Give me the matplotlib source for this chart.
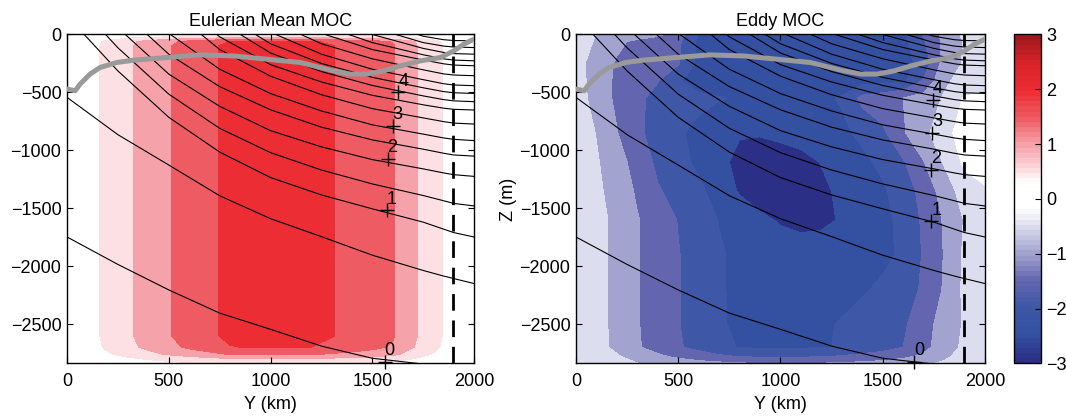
import numpy as np
import matplotlib
matplotlib.use("Agg")
import matplotlib.pyplot as plt
from matplotlib.colors import LinearSegmentedColormap, Normalize
from matplotlib.cm import ScalarMappable

plt.rcParams["font.family"] = ["Liberation Sans", "DejaVu Sans"]
plt.rcParams["font.size"] = 13

# ---------------- data ----------------
Y_GRID = [0, 100, 200, 300, 400, 500, 600, 700, 800, 900, 1000,
          1100, 1200, 1300, 1400, 1500, 1600, 1700, 1800, 1900, 2000]

# Eulerian mean MOC: y profile and depth taper
MEAN_F = [0, 0.31, 0.62, 0.93, 1.2, 1.47, 1.7, 1.9, 2.12, 2.18, 2.2,
          2.2, 2.15, 2.02, 1.9, 1.75, 1.55, 1.1, 0.65, 0.3, 0]
MEAN_Z = [0, -30, -60, -100, -2600, -2700, -2760, -2800, -2850]
MEAN_G = [0, 0.5, 0.95, 1.0, 1.0, 0.93, 0.72, 0.45, 0.2]

# Eddy MOC (Sv), rows = depth, cols = Y_GRID
EDDY_Z = [0, -60, -250, -400, -550, -850, -1100, -1350, -1600, -1900,
          -2200, -2500, -2700, -2780, -2850]
EDDY = [
    [-0.6, -1.02, -1.15, -1.25, -1.4, -1.7, -2.52, -2.6, -2.65, -2.7, -2.75, -2.95, -2.85, -2.75, -2.7, -2.65, -2.6, -1.95, -1.35, -0.9, -0.7],
    [-0.75, -1.05, -1.4, -1.6, -1.75, -1.9, -2.6, -2.75, -2.8, -2.85, -2.85, -2.9, -2.85, -2.8, -2.75, -2.7, -2.65, -2.05, -1.4, -0.95, -0.75],
    [-0.8, -1.25, -1.55, -1.7, -1.8, -1.95, -2.65, -2.8, -2.85, -2.9, -2.9, -2.9, -2.9, -2.85, -2.8, -2.75, -2.7, -2.3, -1.3, -0.95, -0.8],
    [-0.8, -1.2, -1.6, -1.8, -1.98, -2.45, -2.7, -2.8, -2.85, -2.85, -2.85, -2.85, -2.8, -2.75, -2.7, -2.65, -2.6, -1.95, -1.1, -0.8, -0.75],
    [-0.75, -1.2, -1.6, -1.9, -2.15, -2.3, -2.4, -2.47, -2.55, -2.6, -2.65, -2.65, -2.6, -2.45, -1.85, -1.7, -1.5, -1.3, -0.95, -0.45, -0.4],
    [-0.7, -1.02, -1.48, -1.9, -2.2, -2.45, -2.6, -2.8, -2.97, -2.97, -2.9, -2.8, -2.7, -2.6, -2.4, -2.1, -1.55, -1.15, -0.65, -0.3, -0.25],
    [-0.7, -0.95, -1.3, -1.7, -2.1, -2.35, -2.6, -2.9, -3.1, -3.2, -3.2, -3.15, -2.98, -2.8, -2.6, -2.4, -2.05, -1.52, -0.95, -0.4, -0.3],
    [-0.7, -0.9, -1.2, -1.57, -1.96, -2.15, -2.4, -2.7, -3.05, -3.25, -3.3, -3.25, -3.1, -2.9, -2.75, -2.56, -2.3, -1.8, -1.3, -0.75, -0.55],
    [-0.65, -0.85, -1.12, -1.47, -1.75, -2.02, -2.3, -2.52, -2.7, -2.9, -3.05, -3.15, -3.12, -2.95, -2.8, -2.65, -2.35, -1.92, -1.45, -0.97, -0.65],
    [-0.65, -0.85, -1.12, -1.47, -1.72, -1.98, -2.2, -2.45, -2.6, -2.7, -2.75, -2.75, -2.72, -2.68, -2.63, -2.57, -2.45, -1.95, -1.48, -0.92, -0.65],
    [-0.65, -0.85, -1.12, -1.47, -1.72, -1.98, -2.2, -2.45, -2.6, -2.65, -2.68, -2.66, -2.62, -2.58, -2.53, -2.45, -2.25, -1.92, -1.45, -0.9, -0.65],
    [-0.65, -0.85, -1.12, -1.47, -1.72, -1.98, -2.2, -2.45, -2.58, -2.6, -2.6, -2.58, -2.54, -2.48, -2.4, -2.25, -2.08, -1.7, -1.3, -0.95, -0.7],
    [-0.65, -0.85, -1.1, -1.45, -1.7, -1.95, -2.15, -2.4, -2.52, -2.55, -2.55, -2.55, -2.52, -2.48, -2.35, -2.2, -2.0, -1.65, -1.25, -0.9, -0.65],
    [-0.6, -0.75, -0.95, -1.2, -1.4, -1.6, -1.75, -1.9, -2.02, -2.05, -2.05, -2.05, -2.02, -1.95, -1.85, -1.75, -1.6, -1.4, -1.1, -0.8, -0.6],
    [-0.55, -0.65, -0.8, -0.95, -1.05, -1.15, -1.25, -1.3, -1.35, -1.4, -1.4, -1.4, -1.38, -1.35, -1.3, -1.25, -1.15, -1.05, -0.9, -0.7, -0.55],
]

# isopycnals: depth (m) at ISO_Y nodes; positive values lie above the surface
ISO_Y = [0, 250, 500, 750, 1000, 1250, 1500, 1750, 1850, 1900, 2000]
ISO_LINES = [
    [-1748, -1985, -2205, -2405, -2545, -2690, -2795, -2845, -2860, -2865, -2875],
    [-543, -865, -1127, -1392, -1590, -1745, -1905, -2037, -2085, -2107, -2150],
    [160, -315, -715, -1015, -1235, -1385, -1505, -1620, -1680, -1710, -1748],
    [360, -115, -515, -810, -1020, -1170, -1290, -1390, -1435, -1458, -1480],
    [533, 58, -342, -620, -830, -970, -1080, -1160, -1195, -1210, -1225],
    [705, 230, -170, -450, -650, -800, -910, -990, -1025, -1040, -1050],
    [885, 410, 10, -300, -510, -660, -780, -860, -893, -905, -916],
    [1150, 700, 230, -130, -360, -520, -640, -720, -752, -765, -773],
    [1250, 800, 350, -20, -260, -410, -525, -607, -636, -646, -652],
    [1350, 900, 450, 110, -160, -320, -440, -530, -562, -573, -580],
    [1450, 1000, 550, 190, -80, -250, -370, -460, -493, -503, -509],
    [1550, 1100, 650, 300, 20, -170, -300, -390, -425, -436, -442],
    [1650, 1200, 750, 400, 120, -80, -210, -305, -340, -350, -356],
    [1750, 1300, 850, 500, 200, 10, -130, -220, -253, -264, -270],
    [1850, 1400, 950, 600, 300, 80, -70, -175, -210, -221, -227],
    [1950, 1500, 1050, 700, 400, 150, 0, -120, -155, -165, -170],
    [2050, 1600, 1150, 800, 500, 250, 60, -70, -100, -108, -113],
    [2150, 1700, 1250, 900, 600, 350, 130, -15, -45, -52, -55],
]

# mixed layer depth (grey curve)
MLD_Y = [0, 40, 64, 113, 162, 244, 326, 490, 653, 817, 981, 1146, 1310,
         1392, 1474, 1556, 1638, 1736, 1834, 1900, 1949, 1982, 2000]
MLD_Z = [-471, -486, -428, -342, -285, -242, -222, -199, -176, -185, -213,
         -242, -314, -342, -342, -314, -271, -228, -199, -142, -84, -55, -41]

DASH_Y = 1895

LABELS = ["0", "1", "2", "3", "4"]
MEAN_MK_Y = [1560, 1571, 1575, 1600, 1628]
MEAN_MK_Z = [-2825, -1519, -1074, -787, -500]
EDDY_MK_Y = [1654, 1738, 1738, 1743, 1746]
EDDY_MK_Z = [-2823, -1614, -1168, -852, -565]

# ---------------- styling ----------------
LEVELS = [-10, -3, -2.5, -2, -1.5, -1, -0.5, 0.5, 1, 1.5, 2, 2.5, 10]
BAND_COLORS = ["#2b2f86", "#3450a1", "#3e57a6", "#6366af", "#a2a4cf",
               "#dcddee", "#ffffff", "#fce0e3", "#f5a2aa", "#ef5b63",
               "#ec2d33", "#c8202a"]
cmap = LinearSegmentedColormap.from_list("moc", [
    (0.0, "#2b2f86"), (0.083, "#3450a1"), (0.167, "#3e57a6"),
    (0.25, "#6366af"), (0.333, "#a2a4cf"), (0.417, "#dcddee"),
    (0.47, "#ffffff"), (0.55, "#ffffff"), (0.583, "#fce0e3"),
    (0.667, "#f5a2aa"), (0.75, "#ef5b63"), (0.833, "#ec2d33"),
    (0.917, "#d9222a"), (1.0, "#a0181c")], N=64)

y = np.array(Y_GRID, float)
mean_psi = np.outer(MEAN_G, MEAN_F)
eddy_psi = np.array(EDDY)

fig = plt.figure(figsize=(10.66, 4.19), dpi=100)
ax1 = fig.add_axes([0.0629, 0.1325, 0.3818, 0.7852])
ax2 = fig.add_axes([0.5403, 0.1325, 0.3837, 0.7852])
cax = fig.add_axes([0.9512, 0.1325, 0.0253, 0.7852])


def draw_panel(ax, Z, psi, mk_y, mk_z, title):
    ax.contourf(y, Z, psi, levels=LEVELS, colors=BAND_COLORS, zorder=1)
    for zz in ISO_LINES:
        ax.plot(ISO_Y, zz, color="black", lw=0.8, zorder=3)
    ax.plot(MLD_Y, MLD_Z, color="#9a9a9a", lw=3.6, solid_capstyle="round", zorder=4)
    ax.axvline(DASH_Y, color="black", lw=2, dashes=(6, 3.5), zorder=5)
    ax.plot(mk_y, mk_z, "+", color="black", ms=10, mew=1, zorder=6, clip_on=False)
    for lab, xm, zm in zip(LABELS, mk_y, mk_z):
        ax.annotate(lab, (xm, zm), xytext=(0, 2), textcoords="offset points",
                    fontsize=13, ha="left", va="bottom", zorder=6)
    ax.set_xlim(0, 2000)
    ax.set_ylim(-2840, 0)
    ax.set_xticks([0, 500, 1000, 1500, 2000])
    ax.set_yticks([0, -500, -1000, -1500, -2000, -2500])
    ax.set_yticklabels(["0", "\u2212500", "\u22121000", "\u22121500", "\u22122000", "\u22122500"])
    ax.tick_params(direction="in", length=4, width=0.8, top=True, right=True,
                   labelsize=13)
    ax.tick_params(axis="x", pad=7)
    ax.tick_params(axis="y", pad=4)
    for sp in ax.spines.values():
        sp.set_linewidth(1.0)
    ax.set_xlabel("Y (km)", fontsize=13, labelpad=4)
    ax.set_title(title, fontsize=13, pad=6)


draw_panel(ax1, MEAN_Z, mean_psi, MEAN_MK_Y, MEAN_MK_Z, "Eulerian Mean MOC")
draw_panel(ax2, EDDY_Z, eddy_psi, EDDY_MK_Y, EDDY_MK_Z, "Eddy MOC")
ax2.set_ylabel("Z (m)", fontsize=13, labelpad=2)

sm = ScalarMappable(norm=Normalize(-3, 3), cmap=cmap)
cb = fig.colorbar(sm, cax=cax, ticks=[-3, -2, -1, 0, 1, 2, 3])
cb.ax.set_yticklabels(["\u22123", "\u22122", "\u22121", "0", "1", "2", "3"])
cb.ax.tick_params(direction="in", length=4, width=0.8, labelsize=13, pad=4)
cb.outline.set_linewidth(1.0)

fig.savefig("out.png", dpi=100)
